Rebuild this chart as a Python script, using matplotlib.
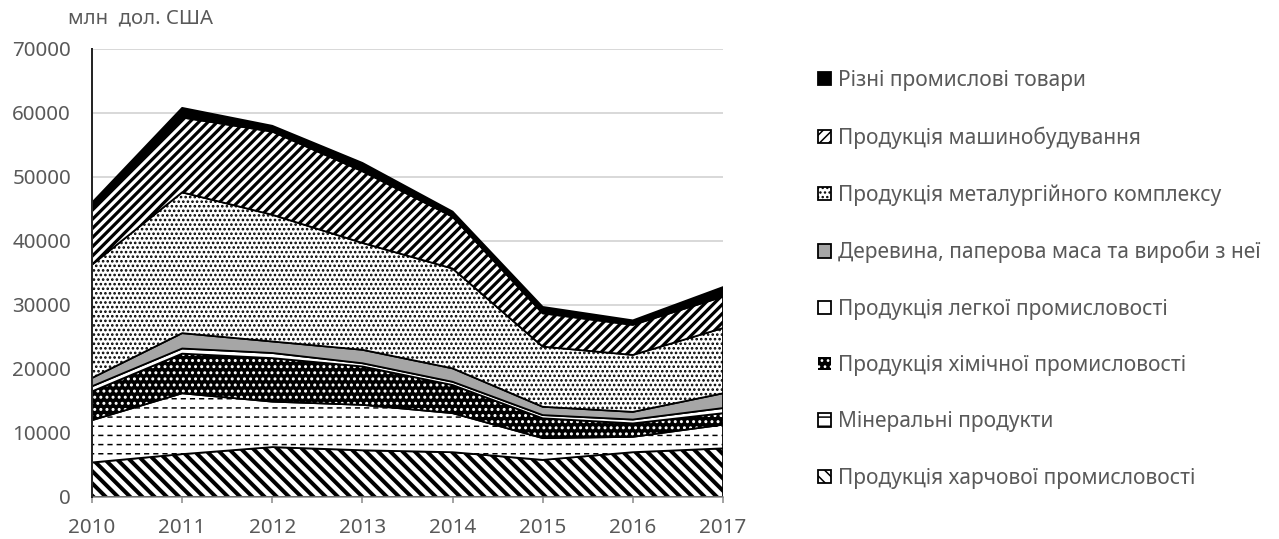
import matplotlib
matplotlib.use("Agg")
import matplotlib.pyplot as plt
import matplotlib.patches as mpatches
import numpy as np

DPI = 110
W, H = 1279, 539

# export structure, mln USD
years = [2010, 2011, 2012, 2013, 2014, 2015, 2016, 2017]
food = [5400, 6700, 7800, 7300, 7000, 5800, 7000, 7600]
minerals = [6600, 9500, 7100, 7100, 6100, 3400, 2400, 3700]
chemical = [4500, 6200, 6800, 6000, 4400, 3100, 2100, 1800]
light = [800, 800, 800, 500, 500, 500, 600, 800]
wood = [1300, 2400, 1800, 2100, 2100, 1300, 1200, 2300]
metallurgy = [17700, 22000, 19800, 16700, 15600, 9400, 8900, 10200]
machinery = [8900, 11700, 13000, 11200, 8100, 5200, 4700, 4900]
misc = [800, 1500, 900, 1300, 800, 1000, 700, 1500]

labels = [
    "Продукція харчової промисловості",
    "Мінеральні продукти",
    "Продукція хімічної промисловості",
    "Продукція легкої промисловості",
    "Деревина, паперова маса та вироби з неї",
    "Продукція металургійного комплексу",
    "Продукція машинобудування",
    "Різні промислові товари",
]
y_ticks = [0, 10000, 20000, 30000, 40000, 50000, 60000, 70000]

TEXT_INK = "#595959"
GRID = "#d9d9d9"
AXIS_INK = "#868686"


def px(v):
    """pixels -> points at the figure dpi"""
    return v * 72 / DPI


# one style per layer: face, hatch, hatch colour, hatch width (px), optional overlay hatch
# (diagonal hatches are twice as sparse as straight ones for the same count)
STYLES = [
    dict(face="white", hatch="\\" * 3, hc="black", hlw=4.0),
    dict(face="white", hatch="--", hc="black", hlw=1.5, over=("||", "white", 4.0)),
    dict(face="black", hatch="...", hc="white", hlw=1.8),
    dict(face="white"),
    dict(face="#a6a6a6"),
    dict(face="white", hatch="....", hc="black", hlw=1.7),
    dict(face="white", hatch="////", hc="black", hlw=3.2),
    dict(face="black"),
]


def hatched_fill(ax, x, lo, hi, face, hatch, color, lw_px, zorder):
    with plt.rc_context({"hatch.linewidth": px(lw_px)}):
        coll = ax.fill_between(x, lo, hi, facecolor=face, edgecolor=color,
                               hatch=hatch, linewidth=0, zorder=zorder)
    if hasattr(coll, "set_hatch_linewidth"):
        coll.set_hatch_linewidth(px(lw_px))
    return coll


plt.rcParams["font.family"] = ["Noto Sans", "DejaVu Sans"]

fig = plt.figure(figsize=(W / DPI, H / DPI), dpi=DPI, facecolor="white")
ax = fig.add_axes([92 / W, 42 / H, (723 - 92) / W, (497 - 49) / H])

data = np.array([food, minerals, chemical, light, wood, metallurgy, machinery, misc], dtype=float)
tops = np.cumsum(data, axis=0)
bottoms = np.vstack([np.zeros(len(years)), tops[:-1]])

handles = []
for i, st in enumerate(STYLES):
    lo, hi = bottoms[i], tops[i]
    z = 2 + i * 0.1
    if "hatch" in st:
        hatched_fill(ax, years, lo, hi, st["face"], st["hatch"], st["hc"], st["hlw"], z)
    else:
        ax.fill_between(years, lo, hi, facecolor=st["face"], linewidth=0, zorder=z)
    if "over" in st:
        h2, c2, lw2 = st["over"]
        hatched_fill(ax, years, lo, hi, "none", h2, c2, lw2, z + 0.01)
    ax.fill_between(years, lo, hi, facecolor="none", edgecolor="black",
                    linewidth=px(1.8), zorder=z + 0.05)

    # legend swatch: same face / hatch, black frame
    light_on_dark = st["face"] == "black" and "hatch" in st
    with plt.rc_context({"hatch.linewidth": px(1.0 if light_on_dark else min(st.get("hlw", 1.0), 2.0))}):
        h = mpatches.Patch(facecolor=st["face"],
                           edgecolor=st["hc"] if light_on_dark else "black",
                           hatch=st.get("hatch"),
                           linewidth=0 if light_on_dark else px(1.8))
    handles.append(h)

ax.set_xlim(years[0], years[-1])
ax.set_ylim(0, 70000)
ax.set_xticks(years)
ax.set_yticks(y_ticks)
ax.grid(axis="y", color=GRID, linewidth=px(2))
ax.set_axisbelow(True)
for s in ("top", "right"):
    ax.spines[s].set_visible(False)
ax.spines["left"].set_color("#262626")
ax.spines["left"].set_linewidth(px(2))
ax.spines["left"].set_zorder(5)
ax.spines["bottom"].set_color(AXIS_INK)
ax.spines["bottom"].set_linewidth(px(1.5))
ax.tick_params(axis="y", length=0, pad=px(21), labelsize=13.5, labelcolor=TEXT_INK)
ax.tick_params(axis="x", length=px(6), width=px(1.5), color=AXIS_INK, pad=px(15),
               labelsize=13.5, labelcolor=TEXT_INK)

fig.text(68 / W, 1 - 18 / H, "млн  дол. США", ha="left", va="center",
         fontsize=13.3, color=TEXT_INK)

fig.legend(handles[::-1], labels[::-1], loc="upper left",
           bbox_to_anchor=(818 / W, 1 - 70 / H), frameon=False, fontsize=13.7,
           labelcolor=TEXT_INK, handlelength=0.6, handleheight=0.6,
           handletextpad=0.35, labelspacing=1.69, borderpad=0, borderaxespad=0)

fig.savefig("out.png", dpi=DPI, facecolor="white")
